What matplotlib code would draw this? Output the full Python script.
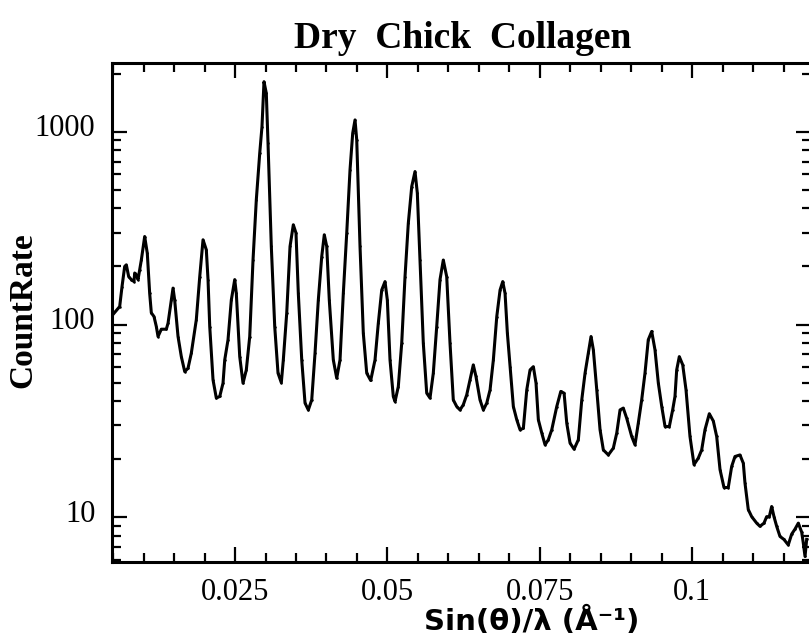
import matplotlib
matplotlib.use("Agg")
import matplotlib.pyplot as plt
from matplotlib.ticker import MultipleLocator, NullFormatter, FixedLocator
from matplotlib.transforms import ScaledTranslation

# ---- data ----
sin_theta_over_lambda = [
    0.00490, 0.00608, 0.00646, 0.00690, 0.00717, 0.00756, 0.00799, 0.00843, 0.00854, 0.00881,
    0.00909, 0.00936, 0.00963, 0.01018, 0.01061, 0.01100, 0.01127, 0.01171, 0.01209, 0.01237,
    0.01291, 0.01373, 0.01401, 0.01455, 0.01483, 0.01510, 0.01565, 0.01619, 0.01675, 0.01729,
    0.01783, 0.01865, 0.01921, 0.01975, 0.02029, 0.02057, 0.02085, 0.02139, 0.02193, 0.02249,
    0.02303, 0.02331, 0.02385, 0.02439, 0.02495, 0.02521, 0.02577, 0.02631, 0.02685, 0.02741,
    0.02795, 0.02849, 0.02905, 0.02942, 0.02975, 0.03013, 0.03041, 0.03095, 0.03151, 0.03205,
    0.03259, 0.03292, 0.03348, 0.03402, 0.03456, 0.03500, 0.03538, 0.03594, 0.03648, 0.03702,
    0.03758, 0.03812, 0.03866, 0.03922, 0.03964, 0.04004, 0.04046, 0.04112, 0.04168, 0.04222,
    0.04276, 0.04332, 0.04386, 0.04430, 0.04468, 0.04496, 0.04550, 0.04604, 0.04660, 0.04725,
    0.04796, 0.04850, 0.04906, 0.04960, 0.04998, 0.05042, 0.05096, 0.05124, 0.05178, 0.05234,
    0.05288, 0.05342, 0.05398, 0.05452, 0.05490, 0.05534, 0.05588, 0.05644, 0.05698, 0.05752,
    0.05808, 0.05862, 0.05916, 0.05972, 0.06026, 0.06080, 0.06136, 0.06190, 0.06244, 0.06300,
    0.06354, 0.06408, 0.06452, 0.06518, 0.06573, 0.06629, 0.06683, 0.06737, 0.06793, 0.06847,
    0.06891, 0.06929, 0.06967, 0.07011, 0.07065, 0.07121, 0.07175, 0.07229, 0.07285, 0.07339,
    0.07393, 0.07437, 0.07475, 0.07531, 0.07585, 0.07639, 0.07695, 0.07777, 0.07843, 0.07897,
    0.07941, 0.07995, 0.08061, 0.08131, 0.08187, 0.08241, 0.08295, 0.08339, 0.08377, 0.08433,
    0.08487, 0.08541, 0.08623, 0.08705, 0.08761, 0.08815, 0.08868, 0.08924, 0.09006, 0.09060,
    0.09114, 0.09170, 0.09224, 0.09278, 0.09334, 0.09388, 0.09443, 0.09499, 0.09553, 0.09623,
    0.09678, 0.09716, 0.09744, 0.09787, 0.09843, 0.09897, 0.09962, 0.10028, 0.10098, 0.10154,
    0.10208, 0.10279, 0.10345, 0.10400, 0.10455, 0.10520, 0.10590, 0.10646, 0.10700, 0.10782,
    0.10837, 0.10864, 0.10918, 0.10974, 0.11056, 0.11110, 0.11176, 0.11220, 0.11263, 0.11302,
    0.11340, 0.11384, 0.11438, 0.11504, 0.11574, 0.11630, 0.11684, 0.11739, 0.11794, 0.11820,
    0.11849, 0.11876,
]
count_rate = [
    112, 124, 157, 200, 204, 177, 171, 167, 185, 181,
    171, 192, 216, 286, 234, 145, 115, 110, 97.7, 86.7,
    94.6, 94.6, 101.6, 134, 154.5, 134, 86.7, 68.2, 57.0, 59.4,
    71.1, 106, 177, 275, 244, 171, 97.7, 51.7, 41.6, 42.4,
    49.7, 65.6, 83.4, 134, 171, 145, 68.2, 49.7, 58.2, 86.7,
    216, 443, 773, 1062, 1815, 1581, 871, 254, 97.7, 56.0,
    50.0, 65.6, 115, 254, 329, 298, 145, 65.6, 39.2, 36.1,
    40.7, 71.1, 134, 225, 292, 254, 134, 65.6, 52.7, 65.6,
    145, 298, 634, 981, 1150, 906, 254, 90.2, 56.0, 51.3,
    65.6, 101.6, 151, 167, 134, 65.6, 42.4, 39.9, 47.7, 80.2,
    177, 335, 519, 621, 480, 216, 80.2, 44.1, 41.6, 56.0,
    97.7, 171, 216, 177, 80.2, 40.7, 37.6, 36.1, 38.4, 43.2,
    51.7, 61.8, 53.8, 40.7, 36.1, 39.2, 45.9, 65.6, 110, 151,
    167, 145, 90.2, 60.5, 37.6, 32.1, 28.5, 29.0, 45.9, 58.2,
    60.5, 49.7, 32.1, 27.4, 23.8, 25.3, 28.5, 37.6, 45.0, 44.1,
    30.8, 24.3, 22.6, 25.3, 40.7, 56.0, 71.1, 86.7, 74.0, 45.9,
    28.5, 22.4, 21.1, 22.9, 27.4, 36.1, 36.9, 32.7, 26.3, 23.8,
    30.8, 40.7, 56.0, 83.4, 92.1, 74.0, 49.7, 37.6, 29.6, 29.6,
    36.1, 42.4, 58.2, 68.2, 61.8, 45.9, 26.3, 18.8, 20.3, 22.4,
    28.5, 34.5, 31.6, 26.3, 17.7, 14.3, 14.3, 18.4, 20.7, 21.1,
    19.1, 15.1, 11.0, 10.1, 9.35, 9.0, 9.35, 10.1, 10.1, 11.4,
    10.1, 9.0, 7.98, 7.69, 7.21, 8.2, 8.7, 9.35, 8.4, 7.4,
    6.28, 7.7,
]
x_major_ticks = [0.025, 0.05, 0.075, 0.1]
x_tick_labels = ["0.025", "0.05", "0.075", "0.1"]
y_major_ticks = [10, 100, 1000]
y_tick_labels = ["10", "100", "1000"]

title = "Dry  Chick  Collagen"
ylabel = "CountRate"
xlabel = "Sin(\u03b8)/\u03bb (\u00c5\u207b\u00b9)"

# ---- figure ----
W, H = 809, 637
fig = plt.figure(figsize=(W / 100, H / 100), dpi=100)
left, right, top, bottom = 112, 811, 63.3, 561.7
ax = fig.add_axes([left / W, 1 - bottom / H, (right - left) / W, (bottom - top) / H])

ax.plot(sin_theta_over_lambda, count_rate, color="black", lw=2.2,
        marker="o", ms=1.8, mew=0)
ax.set_yscale("log")
ax.set_xlim(0.00482, 0.11947)
ax.set_ylim(5.9, 2260)

serif = ["Liberation Serif", "DejaVu Serif"]
ax.set_xticks(x_major_ticks)
ax.set_xticklabels(x_tick_labels, fontfamily=serif, fontsize=22)
ax.xaxis.set_minor_locator(MultipleLocator(0.005))
ax.yaxis.set_major_locator(FixedLocator(y_major_ticks))
ax.set_yticklabels(y_tick_labels, fontfamily=serif, fontsize=22)
ax.yaxis.set_minor_formatter(NullFormatter())

ax.tick_params(which="both", direction="in", top=True, right=True, width=1.6, color="black")
ax.tick_params(which="major", length=11)
ax.tick_params(which="minor", length=6.5)
ax.tick_params(axis="x", which="major", pad=12)
ax.tick_params(axis="y", which="major", pad=12)

for sp in ["left", "bottom", "top"]:
    ax.spines[sp].set_linewidth(2.2)
ax.spines["right"].set_visible(False)

off = ScaledTranslation(0, 5 / 72, fig.dpi_scale_trans)
for lab in ax.get_yticklabels():
    lab.set_transform(lab.get_transform() + off)

fig.text(463 / W, 1 - 38 / H, title, ha="center", va="center",
         fontfamily=serif, fontweight="bold", fontsize=27)
fig.text(23 / W, 1 - 310 / H, ylabel, ha="center", va="center", rotation=90,
         fontfamily=serif, fontweight="bold", fontsize=24)
fig.text(532 / W, 1 - 621 / H, xlabel, ha="center", va="center",
         fontfamily=["DejaVu Sans"], fontweight="bold", fontsize=21)

fig.savefig("out.png", dpi=100)
